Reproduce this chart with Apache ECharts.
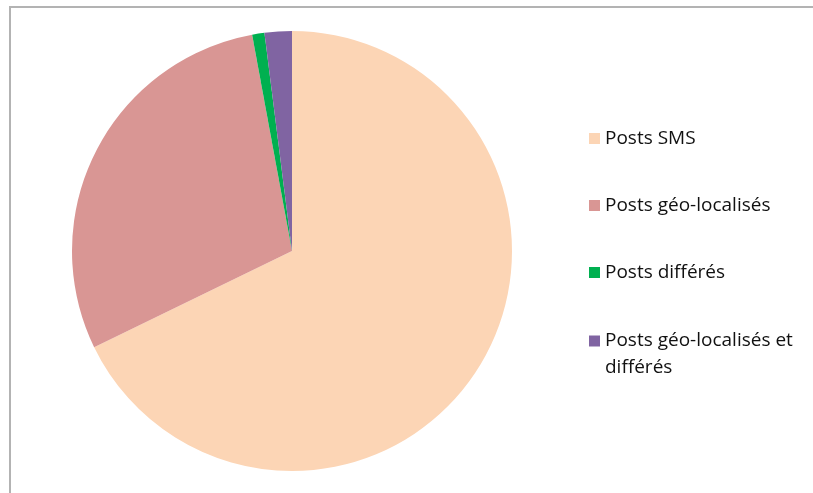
<!DOCTYPE html>
<html>
<head>
<meta charset="utf-8">
<script src="https://cdn.jsdelivr.net/npm/echarts@6/dist/echarts.min.js"></script>
<style>
  html, body { margin: 0; padding: 0; background: #ffffff; }
  #wrap { position: relative; width: 813px; height: 493px; overflow: hidden; }
  #frame { position: absolute; left: 9px; top: 6px; width: 820px; height: 500px;
           border-left: 2px solid #b3b3b3; border-top: 2px solid #b3b3b3; box-sizing: border-box; }
  #chart { position: absolute; left: 0; top: 0; width: 813px; height: 493px; }
</style>
</head>
<body>
<div id="wrap">
  <div id="frame"></div>
  <div id="chart"></div>
</div>
<script>
// Share of posts by type (percent)
const categories = ['Posts SMS', 'Posts géo-localisés', 'Posts différés', 'Posts géo-localisés et différés'];
const shares = [67.8, 29.3, 0.9, 2.0];
const colors = ['#FCD5B5', '#D99694', '#00B050', '#8064A2'];
// Legend text as displayed (last entry wraps onto two lines)
const legendLabels = {
  'Posts géo-localisés et différés': 'Posts géo-localisés et\ndifférés'
};

const LINE_H = 27;

const legendText = {
  fontFamily: '"Open Sans", sans-serif',
  fontSize: 19,
  color: '#111111',
  lineHeight: LINE_H
};

const legendBase = {
  orient: 'vertical',
  left: 589,
  padding: 0,
  itemWidth: 11,
  itemHeight: 11,
  itemGap: 40,
  icon: 'rect',
  selectedMode: false,
  textStyle: legendText
};

const chart = echarts.init(document.getElementById('chart'), null, { renderer: 'canvas' });

chart.setOption({
  animation: false,
  backgroundColor: 'transparent',
  color: colors,
  legend: [
    Object.assign({}, legendBase, {
      top: 125,
      data: categories.slice(0, 3)
    }),
    // wrapped entry: a blank leading line keeps the marker level with the first text line
    Object.assign({}, legendBase, {
      top: 300.5,
      data: categories.slice(3),
      formatter: name => '\u00a0\n' + (legendLabels[name] || name)
    })
  ],
  series: [{
    type: 'pie',
    center: [292, 251],
    radius: 220,
    startAngle: 90,
    clockwise: true,
    label: { show: false },
    labelLine: { show: false },
    emphasis: { disabled: true },
    itemStyle: { borderWidth: 0 },
    data: categories.map((name, i) => ({ name, value: shares[i] }))
  }]
});
</script>
</body>
</html>
